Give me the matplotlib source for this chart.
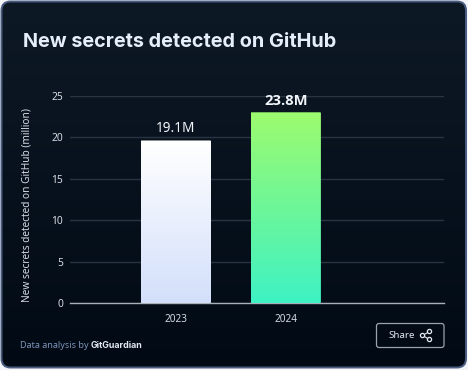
import numpy as np
import matplotlib
matplotlib.use("Agg")
import matplotlib.pyplot as plt
from matplotlib.patches import FancyBboxPatch, Circle
from matplotlib.colors import LinearSegmentedColormap

years = ["2023", "2024"]
bar_heights = [19.6, 23.0]
bar_labels = ["19.1M", "23.8M"]
bar_label_sizes = [9.8, 10.6]
bar_label_weights = ["normal", "bold"]
bar_label_y = [21.0, 24.4]
yticks = [0, 5, 10, 15, 20, 25]
title = "New secrets detected on GitHub"
ylabel = "New secrets detected on GitHub (million)"
W, H = 468, 370
FONT = "Noto Sans"
BOLD = "Inter"

fig = plt.figure(figsize=(W/100, H/100), dpi=100, facecolor="#f4f5f8")

bg = fig.add_axes([0, 0, 1, 1], zorder=0)
bg.set_xlim(0, W); bg.set_ylim(H, 0); bg.axis("off")
card = FancyBboxPatch((1.5, 1.5), W-3.5, H-4, boxstyle="round,pad=0,rounding_size=9",
                      fc="none", ec="#4a5c80", lw=1.4, zorder=3)
bg.add_patch(card)
grad = LinearSegmentedColormap.from_list("bgc", ["#0e1926", "#010a14"])
im = bg.imshow(np.linspace(0, 1, 256)[:, None], extent=(0, W, H, 0), aspect="auto", cmap=grad, zorder=1)
im.set_clip_path(card)
bg.set_xlim(0, W); bg.set_ylim(H, 0)

bg.text(23, 42, title, color="#e6eefb", fontsize=14.3, fontweight="bold", family=BOLD, va="center", ha="left", zorder=5)
t1 = bg.text(20, 345, "Data analysis by ", color="#7f93b8", fontsize=6.5, family=FONT, va="center", zorder=5)
fig.canvas.draw()
bb = t1.get_window_extent()
bg.text(bb.x1, 345, "GitGuardian", color="#e4e8f0", fontsize=6.4, fontweight="bold", family=BOLD, va="center", zorder=5)

btn = FancyBboxPatch((376.5, 323.5), 67.5, 24, boxstyle="round,pad=0,rounding_size=2.5",
                     fc="none", ec="#9aa2ad", lw=0.9, zorder=5)
bg.add_patch(btn)
bg.text(388.5, 335.5, "Share", color="#e4e8f0", fontsize=7.0, family=FONT, va="center", zorder=5)
nodes = [(422.5, 335.5), (429.5, 331.5), (429.5, 339.5)]
for a, b in [(nodes[0], nodes[1]), (nodes[0], nodes[2])]:
    bg.plot([a[0], b[0]], [a[1], b[1]], color="#e4e8f0", lw=0.8, zorder=5)
for n in nodes:
    bg.add_patch(Circle(n, 2.1, fc="#05101b", ec="#e4e8f0", lw=0.9, zorder=6))

x0, x1, y0, y1 = 70, 444, 303, 95.7
ax = fig.add_axes([x0/W, 1-y0/H, (x1-x0)/W, (y0-y1)/H], zorder=2)
ax.patch.set_alpha(0)
for s in ["top", "right", "left"]:
    ax.spines[s].set_visible(False)
ax.spines["bottom"].set_color("#aab0ba")
ax.spines["bottom"].set_linewidth(1.0)
ax.set_ylim(0, 25)
ax.set_xlim(-0.963, 2.44)
ax.set_yticks(yticks)
ax.set_yticklabels([str(v) for v in yticks], color="#d5dae2", fontsize=7.4, family=FONT)
ax.set_xticks(range(len(years)))
ax.set_xticklabels(years, color="#d5dae2", fontsize=7.2, family=FONT)
ax.tick_params(axis="both", length=0)
ax.tick_params(axis="y", pad=5)
ax.tick_params(axis="x", pad=8)
ax.set_axisbelow(True)
ax.grid(axis="y", color="#2a3441", lw=1.0)
ax.set_ylabel(ylabel, color="#d5dae2", fontsize=7.3, family=FONT, va="center")
ax.yaxis.set_label_coords((27.5-x0)/(x1-x0), 0.475)

bars = ax.bar(range(len(years)), bar_heights, width=0.64, color="none", zorder=3)
cmaps = [LinearSegmentedColormap.from_list("w", ["#ffffff", "#d3dffa"]),
         LinearSegmentedColormap.from_list("g", ["#9dfb6e", "#3ef2c4"])]
for i, (b, cm) in enumerate(zip(bars, cmaps)):
    xx, w, h = b.get_x(), b.get_width(), b.get_height()
    gr = ax.imshow(np.linspace(0, 1, 256)[:, None], extent=(xx, xx+w, 0, h), aspect="auto",
                   cmap=cm, zorder=3, origin="upper")
    gr.set_clip_path(FancyBboxPatch((xx, 0), w, h, boxstyle="round,pad=0,rounding_size=0.01",
                                    mutation_aspect=8, transform=ax.transData, fc="none", ec="none"))
ax.set_xlim(-0.963, 2.44); ax.set_ylim(0, 25)

for i, lab in enumerate(bar_labels):
    ax.text(i, bar_label_y[i], lab, ha="center", va="center", color="#f2f5fa",
            fontsize=bar_label_sizes[i], fontweight=bar_label_weights[i],
            family="Open Sans" if bar_label_weights[i] == "bold" else FONT, zorder=5)

fig.savefig("out.png", dpi=100, facecolor=fig.get_facecolor())
